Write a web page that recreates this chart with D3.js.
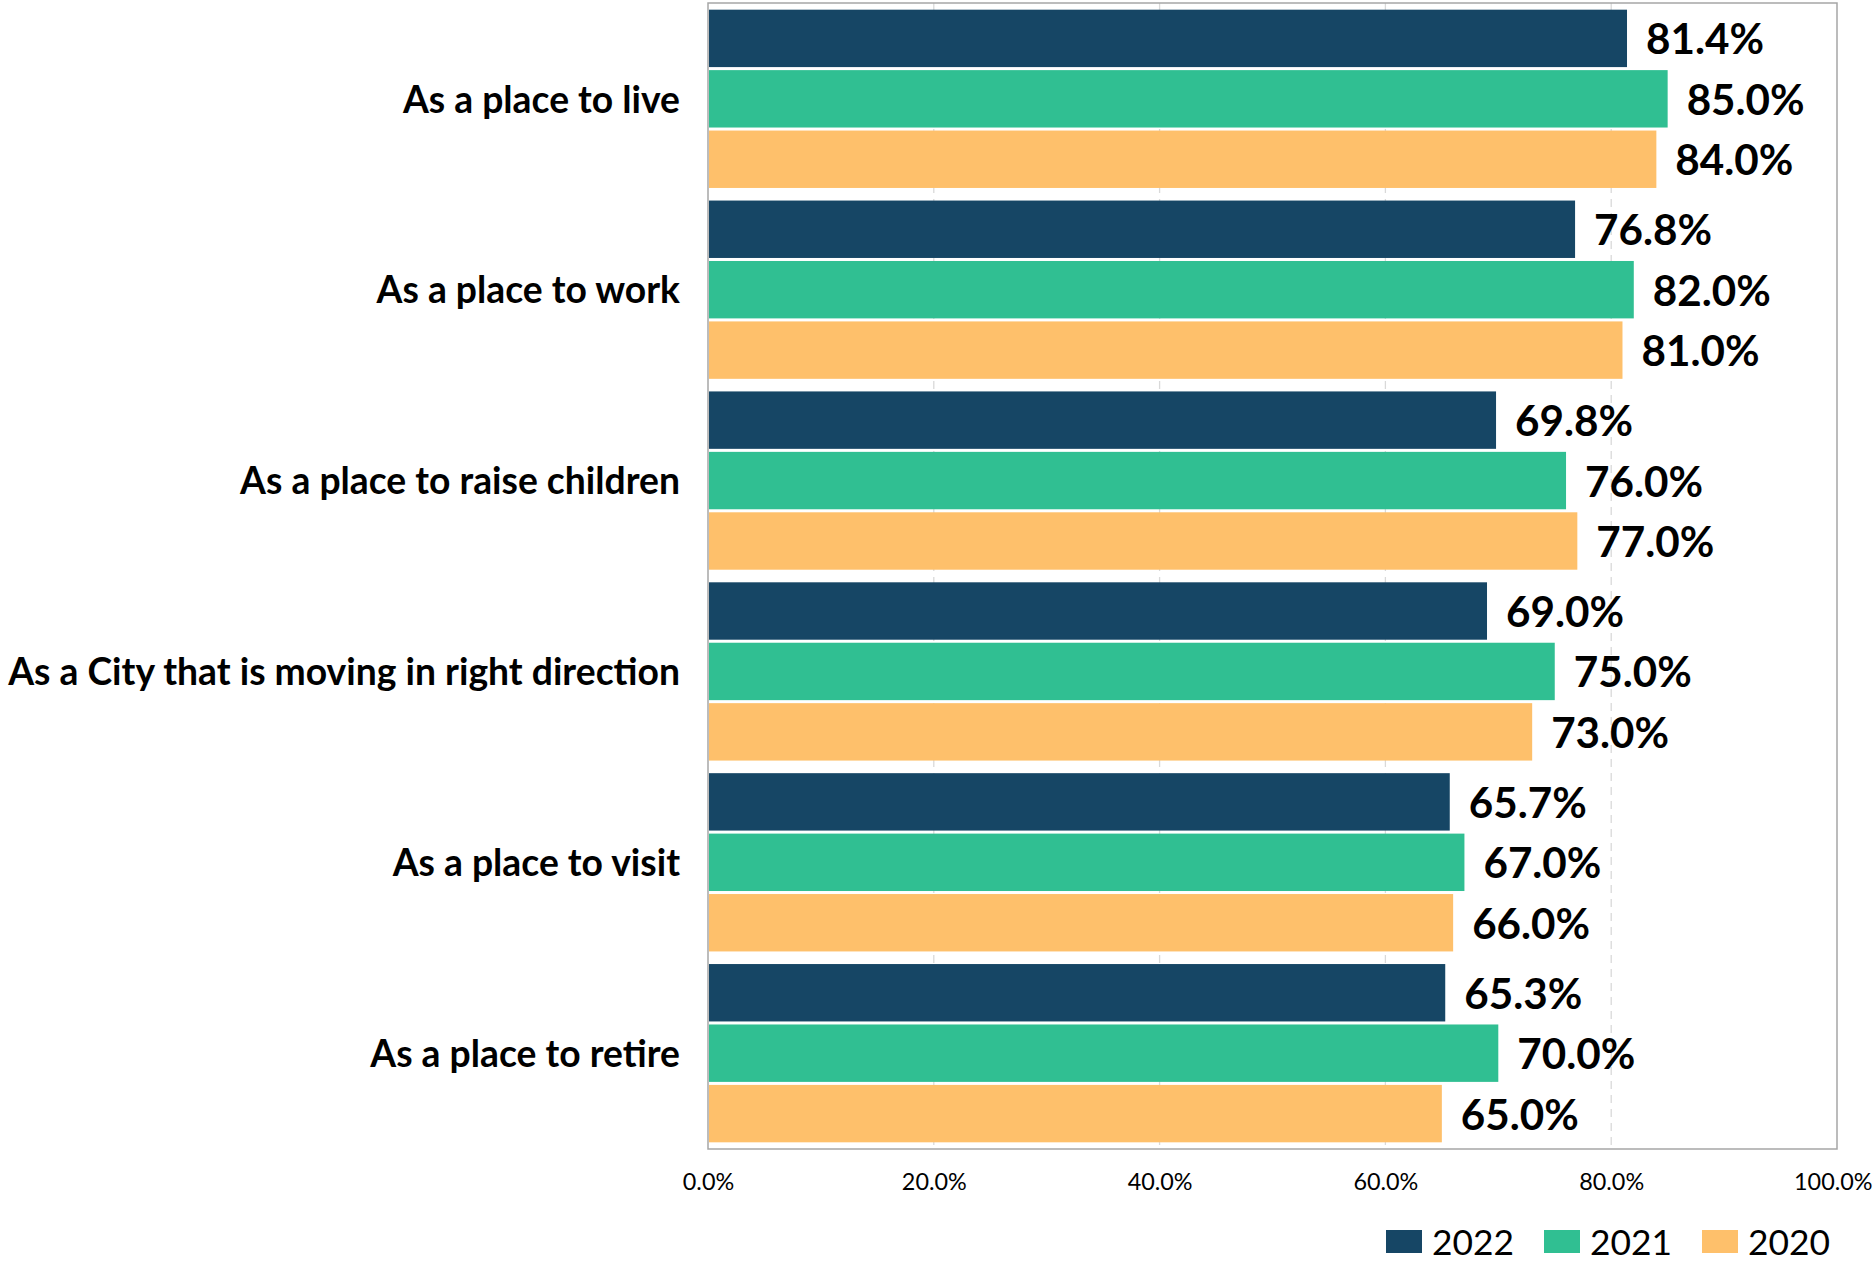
<!DOCTYPE html>
<html><head><meta charset="utf-8">
<script src="https://cdn.jsdelivr.net/npm/d3@7"></script>
<style>body{margin:0;background:#fff}svg{display:block}</style>
</head><body>
<script>
const categories = ["As a place to live","As a place to work","As a place to raise children","As a City that is moving in right direction","As a place to visit","As a place to retire"];
const seriesNames = ["2022","2021","2020"];
const values2022 = [81.4,76.8,69.8,69.0,65.7,65.3];
const values2021 = [85.0,82.0,76.0,75.0,67.0,70.0];
const values2020 = [84.0,81.0,77.0,73.0,66.0,65.0];
const xTicks = [0,20,40,60,80,100];
const colors = ["#164665","#30BF92","#FEC06B"];

(function(){
const W=1875,H=1264;
const pL=708,pR=1837,pT=3,pB=1149;
const svg=d3.select("body").append("svg").attr("width",W).attr("height",H);
const font="Lato, 'Noto Sans', sans-serif";

const x=d3.scaleLinear().domain([0,100]).range([pL,pR]);
const y0=d3.scaleBand().domain(categories).range([pT,pB]).paddingInner(0.066).paddingOuter(0.035);
const y1=d3.scaleBand().domain(seriesNames).range([0,y0.bandwidth()]).paddingInner(0.05);

svg.append("g").selectAll("line").data(xTicks.filter(t=>t>0&&t<100)).join("line")
  .attr("x1",d=>x(d)).attr("x2",d=>x(d)).attr("y1",pT).attr("y2",pB)
  .attr("stroke","#d9d9d9").attr("stroke-width",1.3).attr("stroke-dasharray","8,6");

const data=categories.map((c,i)=>({c,vals:[values2022[i],values2021[i],values2020[i]]}));
const g=svg.append("g").selectAll("g").data(data).join("g").attr("transform",d=>`translate(0,${y0(d.c)})`);
g.selectAll("rect").data(d=>d.vals.map((v,j)=>({v,s:seriesNames[j],j}))).join("rect")
  .attr("x",x(0)+1).attr("y",d=>y1(d.s)).attr("width",d=>x(d.v)-x(0)-1).attr("height",y1.bandwidth())
  .attr("fill",d=>colors[d.j]);
const vl=g.selectAll("text.v").data(d=>d.vals.map((v,j)=>({v,s:seriesNames[j],j}))).join("text").attr("class","v")
  .attr("x",d=>x(d.v)+19).attr("y",d=>y1(d.s)+y1.bandwidth()/2).attr("dy","0.38em")
  .attr("font-family",font).attr("font-weight",700).attr("font-size",44).attr("fill","#000")
  .text(d=>d.v.toFixed(1)+"%");

svg.append("rect").attr("x",pL).attr("y",pT).attr("width",pR-pL).attr("height",pB-pT)
  .attr("fill","none").attr("stroke","#a6a6a6").attr("stroke-width",1.5);

const cl=svg.append("g").selectAll("text").data(categories).join("text")
  .attr("x",680).attr("y",d=>y0(d)+y0.bandwidth()/2).attr("dy","0.37em").attr("text-anchor","end")
  .attr("font-family",font).attr("font-weight",700).attr("font-size",36).attr("fill","#000").text(d=>d);

const xa=svg.append("g").attr("transform",`translate(0,${pB})`)
  .call(d3.axisBottom(x).tickValues(xTicks).tickFormat(d=>d.toFixed(1)+"%").tickSize(0).tickPadding(24));
xa.select(".domain").remove();
xa.selectAll("text").attr("font-family",font).attr("font-size",24).attr("fill","#000");

function fit(sel,target,ref){
  let w=0;sel.each(function(){if(this.textContent===ref)w=this.getComputedTextLength();});
  if(w>0){const fs=parseFloat(sel.attr("font-size"))*target/w;sel.attr("font-size",fs);}
}
fit(cl,672,"As a City that is moving in right direction");
fit(vl,118,"81.4%");
fit(xa.selectAll("text"),65,"20.0%");
// keep last tick label inside the page
xa.selectAll(".tick").each(function(d){
  const t=d3.select(this).select("text").node();
  const w=t.getComputedTextLength();
  const right=x(d)+w/2;
  if(right>W-3) d3.select(t).attr("dx",(W-3-right));
});

const lx=[1386,1544,1702];
const lg=svg.append("g").selectAll("g").data(seriesNames).join("g");
lg.append("rect").attr("x",(d,i)=>lx[i]).attr("y",1230).attr("width",36).attr("height",23).attr("fill",(d,i)=>colors[i]);
const lt=lg.append("text").attr("x",(d,i)=>lx[i]+46).attr("y",1242).attr("dy","0.36em")
  .attr("font-family",font).attr("font-size",37).attr("fill","#000").text(d=>d);
fit(lt,82,"2022");
})();
</script>
</body></html>
